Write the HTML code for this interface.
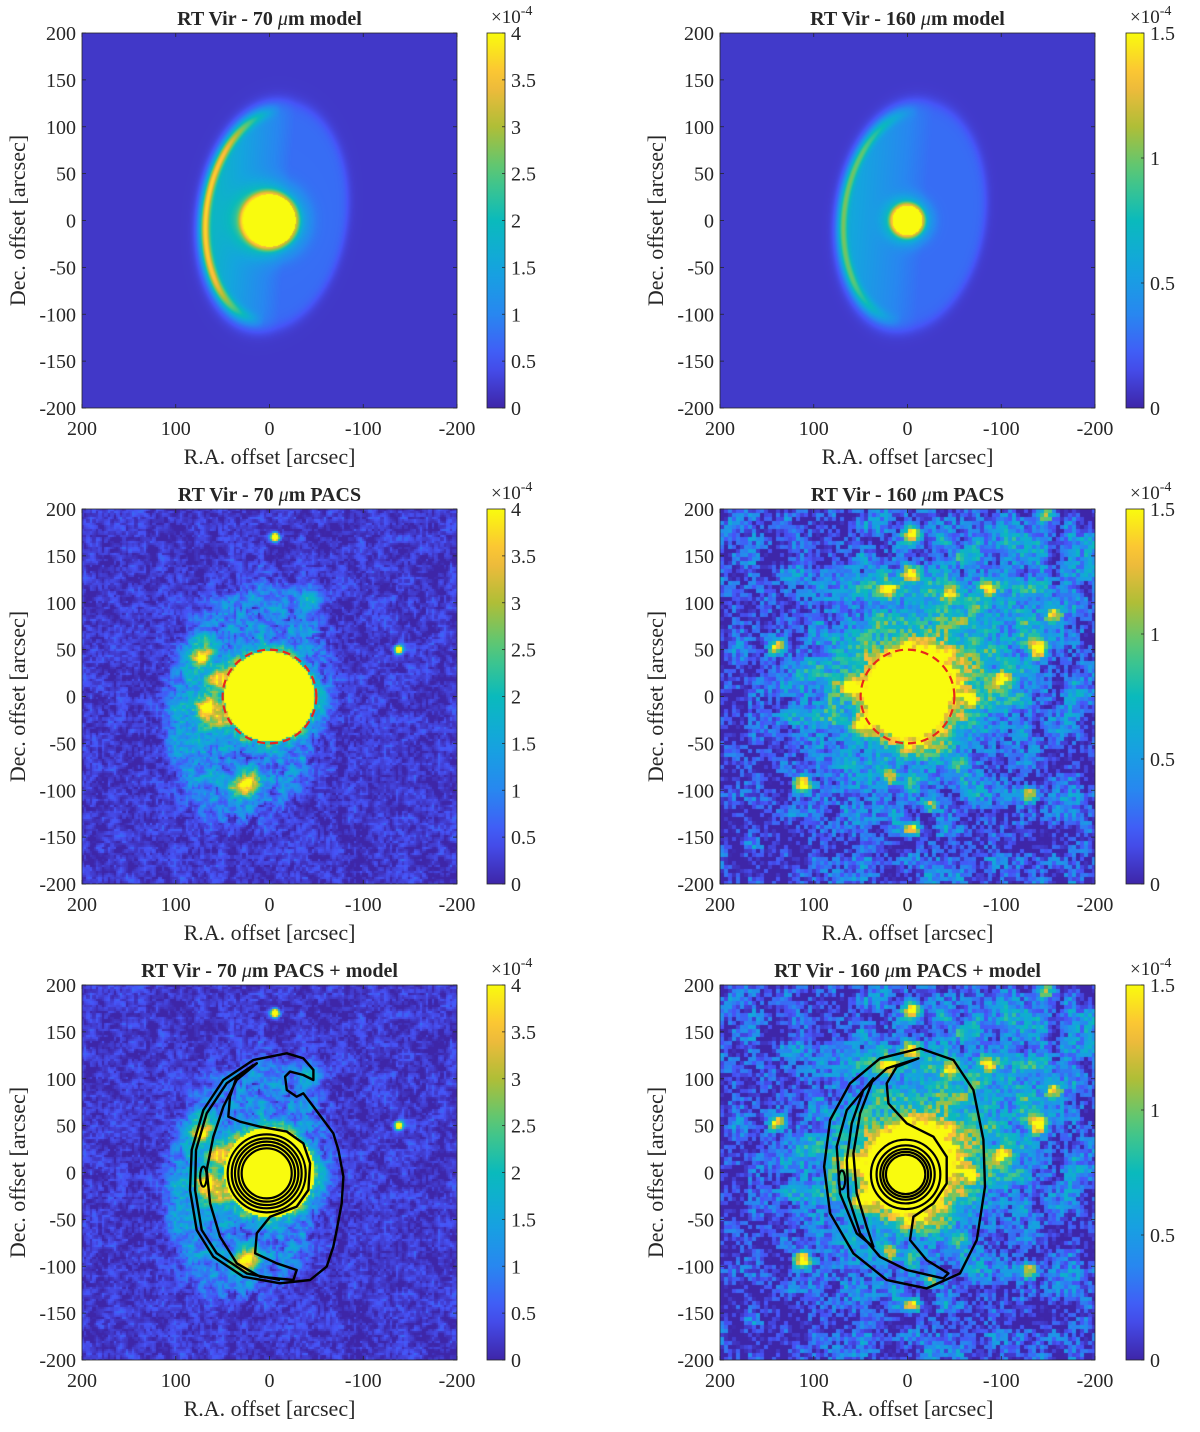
<!DOCTYPE html>
<html><head><meta charset="utf-8">
<style>
html,body{margin:0;padding:0;background:#fff;}
#root{position:relative;width:1200px;height:1432px;overflow:hidden;background:#fff;}
canvas{position:absolute;}
svg{position:absolute;left:0;top:0;}
text{font-family:"Liberation Serif",serif;fill:#262626;}
</style></head>
<body>
<div id="root">
<svg id="ov" width="1200" height="1432"></svg>
</div>
<script>
// ---- data arrays ----
const xTicks = [200, 100, 0, -100, -200];
const yTicks = [200, 150, 100, 50, 0, -50, -100, -150, -200];
const cbTicks70 = [0, 0.5, 1, 1.5, 2, 2.5, 3, 3.5, 4];
const cbTicks160 = [0, 0.5, 1, 1.5];
const titles = ["RT Vir - 70 |m model", "RT Vir - 160 |m model", "RT Vir - 70 |m PACS", "RT Vir - 160 |m PACS", "RT Vir - 70 |m PACS + model", "RT Vir - 160 |m PACS + model"];
// point sources [ra, dec, amplitude]
const src70 = [[-6,170,7],[-138,50,6],[-43,105,1.6],[71,44,2.6],[67,-9,2.8],[55,20,2.2],[60,-25,2.0],[19,-91,2.6],[30,-97,2.0]];
const src160 = [[-4.5,172,1.6],[139.5,53,1.2],[-139.6,51,1.6],[111,-94,1.4],[-4.5,-141,1.1],[-132,-103,1.1],[-100,19,1.1],[-68,-2,1.2],[-147,194,1.1],[-157,89,1.0],[-86,117,1.0],[-45,110,1.1],[-3,131,1.2],[19,114,1.0],[19,-86,1.1],[-24,-116,1.0],[60,10,0.9],[50,-30,0.9]];
// contours [ra, dec]
const c70outer = [[-18.4,127.1],[17.2,120],[49.2,98.7],[70.5,66.7],[83,24],[84.8,-18.7],[77.7,-61.3],[59.9,-89.8],[27.9,-111.1],[-11.2,-118.2],[-43.3,-114.7],[-61,-100.4],[-68.1,-79.1],[-71.7,-61.3],[-77,-32.9],[-78.8,-4.4],[-73.5,24],[-68.1,41.8],[-57.5,56],[-46.8,70.3],[-36.1,84.5],[-29,80.9],[-18.4,88],[-16.6,102.3],[-21.9,107.6],[-36.1,104],[-46.8,98.7],[-46.8,109.4],[-36.1,121.8]];
const c70inner = [[13.6,116.5],[35,102.3],[42.1,80.9],[43.9,59.6],[31.4,54.2],[10.1,48.9],[-18.4,43.6],[-36.1,31.1],[-43.3,9.8],[-41.5,-18.7],[-29,-36.4],[-0.6,-47.1],[13.6,-64.9],[15.4,-86.2],[-7.7,-96.9],[-29,-104],[-25.5,-114.7],[10.1,-111.1],[35,-96.9],[52.8,-68.4],[63.4,-32.9],[67,2.7],[59.9,38.2],[49.2,70.3],[35,98.7]];
const c70second = [[17.2,114.7],[45.7,95.1],[67,63.1],[78.4,24],[79.4,-18.7],[72.3,-61.3],[56.3,-86.2],[24.3,-107.6],[-11.2,-114.7]];
const rings70 = [26.7, 30.2, 33.8, 37.3];
const c160outer = [[-13.4,132.4],[-49,120],[-70.3,88],[-81,35],[-82.7,-15.2],[-73.9,-72],[-56,-107.6],[-20.5,-123.6],[22.2,-114.7],[57.7,-86.3],[82.6,-43.6],[89,6.2],[82.6,56],[61.3,95],[29.3,121.7]];
const c160crescent = [[36.4,100.4],[64.8,66.6],[75.5,27.5],[72,-22.3],[54.2,-65],[36.4,-79.2],[43.5,-57.8],[54.2,-22.3],[57.7,20.4],[50.6,63.1]];
const c160inner = [[-11.6,121.7],[11.5,112.8],[22.2,95],[20.4,73.7],[0.8,52.4],[-27.6,38.2],[-41.8,16.8],[-41.8,-11.6],[-27.6,-33],[-6.3,-47.2],[-2.7,-72],[-20.5,-93.4],[-43.6,-107.6],[-38.3,-113],[0.8,-104],[29.3,-89.9],[50.6,-65],[63.1,-25.9],[64.8,13.3],[59.5,52.4],[47.1,88],[22.2,111]];
const rings160 = [21, 24, 27, 31];

// ---- layout ----
const colX = [82, 720], rowY = [33, 509, 985], S = 375;
const cbX = [487, 1126], cbW = 18;
const NS = 'http://www.w3.org/2000/svg';
const ov = document.getElementById('ov');
const root = document.getElementById('root');
function mk(tag, attrs, parent) { const e = document.createElementNS(NS, tag); for (const k in attrs) e.setAttribute(k, attrs[k]); (parent || ov).appendChild(e); return e; }

const PAR = [[0,62,38,168],[0.125,70,84,248],[0.25,40,135,240],[0.375,20,165,222],[0.5,10,186,188],[0.625,80,200,125],[0.75,175,190,55],[0.875,252,186,60],[1,249,251,14]];
function parula(t) {
  t = Math.max(0, Math.min(1, t));
  for (let i = 1; i < PAR.length; i++) if (t <= PAR[i][0]) {
    const a = PAR[i-1], b = PAR[i], f = (t - a[0]) / (b[0] - a[0]);
    return [a[1]+(b[1]-a[1])*f, a[2]+(b[2]-a[2])*f, a[3]+(b[3]-a[3])*f];
  }
  return PAR[PAR.length-1].slice(1);
}
function hash(x, y, s) { let h = (x*374761393 + y*668265263 + s*1442695041) | 0; h = (h ^ (h >>> 13)) * 1274126177 | 0; h = h ^ (h >>> 16); return ((h >>> 0) % 100000) / 100000; }
function vnoise(x, y, sc, s) {
  const gx = x / sc, gy = y / sc, ix = Math.floor(gx), iy = Math.floor(gy), fx = gx - ix, fy = gy - iy;
  const sx = fx*fx*(3-2*fx), sy = fy*fy*(3-2*fy);
  const a = hash(ix,iy,s), b = hash(ix+1,iy,s), c = hash(ix,iy+1,s), d = hash(ix+1,iy+1,s);
  return (a + (b-a)*sx) + ((c + (d-c)*sx) - (a + (b-a)*sx)) * sy;
}
function g2(ra, dec, x0, y0, s) { return Math.exp(-((ra-x0)*(ra-x0) + (dec-y0)*(dec-y0)) / (2*s*s)); }

function shell(ra, dec) {
  const u = ra + 3 + 0.08 * (dec - 5), v = dec - 5, a = u > 0 ? 78 : 80, b = 122;
  const r = Math.sqrt((u/a)*(u/a) + (v/b)*(v/b));
  const s = 1 / (1 + Math.exp((r - 1) / 0.035));
  const left = Math.max(0, Math.min(1.2, u/a + 0.2));
  const rim = Math.exp(-Math.pow((r - 0.91) / 0.055, 2)) * Math.max(0, Math.min(1, (u/a) * 1.4));
  return { s, left, rim };
}
function model70(ra, dec) {
  const d = Math.hypot(ra, dec), sh = shell(ra, dec);
  let v = 0.2 + sh.s * (0.55 + 1.1 * sh.left) + 1.9 * sh.rim;
  v += d < 28 ? 6 : 1.6 * Math.exp(-Math.pow((d - 28) / 5, 2)) + 0.9 * Math.exp(-Math.pow((d - 28) / 16, 2));
  return v;
}
function model160(ra, dec) {
  const d = Math.hypot(ra, dec), sh = shell(ra, dec);
  let v = 0.08 + sh.s * (0.2 + 0.3 * sh.left) + 0.45 * sh.rim;
  v += d < 16 ? 3 : 0.6 * Math.exp(-Math.pow((d - 16) / 4, 2)) + 0.35 * Math.exp(-Math.pow((d - 16) / 12, 2));
  return v;
}
function pacs70(ra, dec, px, py) {
  const d = Math.hypot(ra, dec);
  const n = (vnoise(px, py, 3, 1) - 0.5) * 1.2 + (vnoise(px, py, 10, 2) - 0.5) * 0.9;
  const u = ra - 15 + 0.1 * dec, w = dec + 5, a = u > 0 ? 90 : 78, b = 125;
  const r = Math.sqrt((u/a)*(u/a) + (w/b)*(w/b));
  const s = 1 / (1 + Math.exp((r - 1) / 0.07));
  let v = 0.22 + n * 0.6 + s * (0.75 + n * 0.6 + 0.7 * Math.max(0, u/a));
  v += d < 48 ? 8 : 1.3 * Math.exp(-Math.pow((d - 48) / 10, 2));
  for (const p of src70) v += p[2] * g2(ra, dec, p[0], p[1], p[2] > 5 ? 3 : 8);
  return v;
}
function pacs160(ra, dec, px, py) {
  const d = Math.hypot(ra, dec);
  const bx = Math.floor(px / 4), by = Math.floor(py / 4);
  const n = (hash(bx, by, 5) - 0.5) * 0.55 + (vnoise(px, py, 16, 6) - 0.5) * 0.6;
  let v = 0.12 + n + 0.55 * g2(ra, dec, -20, 40, 90) + 0.6 * g2(ra, dec, 0, 0, 55) + 0.2 * g2(ra, dec, -150, 120, 60);
  v += d < 45 ? 3 : 0.5 * Math.exp(-Math.pow((d - 45) / 15, 2));
  for (const p of src160) v += p[2] * g2(ra, dec, p[0], p[1], 6);
  return v;
}

function drawImage(col, row, fn, vmax, block, name) {
  const cv = document.createElement('canvas');
  cv.width = S; cv.height = S;
  cv.style.left = colX[col] + 'px'; cv.style.top = rowY[row] + 'px';
  
  
  root.insertBefore(cv, ov);
  const ctx = cv.getContext('2d'), img = ctx.createImageData(S, S);
  for (let y = 0; y < S; y++) for (let x = 0; x < S; x++) {
    const qx = Math.floor(x / block) * block + block / 2, qy = Math.floor(y / block) * block + block / 2;
    const ra = 200 - qx * 400 / S, dec = 200 - qy * 400 / S;
    const c = parula(fn(ra, dec, qx, qy) / vmax), i = (y * S + x) * 4;
    img.data[i] = c[0]; img.data[i+1] = c[1]; img.data[i+2] = c[2]; img.data[i+3] = 255;
  }
  ctx.putImageData(img, 0, 0);
}

drawImage(0, 0, model70, 4, 1, 'model-70-image');
drawImage(1, 0, model160, 1.5, 1, 'model-160-image');
drawImage(0, 1, pacs70, 4, 2, 'pacs-70-image');
drawImage(1, 1, pacs160, 1.5, 4, 'pacs-160-image');
drawImage(0, 2, pacs70, 4, 2, 'pacs-model-70-image');
drawImage(1, 2, pacs160, 1.5, 4, 'pacs-model-160-image');

const gd = mk('defs', {});
const lg = mk('linearGradient', { id: 'parg', x1: 0, y1: 1, x2: 0, y2: 0 }, gd);
for (let i = 0; i <= 20; i++) { const c = parula(i / 20); mk('stop', { offset: i / 20, 'stop-color': `rgb(${c.map(Math.round).join(',')})` }, lg); }

function axX(col, ra) { return colX[col] + (200 - ra) * S / 400; }
function axY(row, dec) { return rowY[row] + (200 - dec) * S / 400; }

for (let row = 0; row < 3; row++) for (let col = 0; col < 2; col++) {
  const x0 = colX[col], y0 = rowY[row];
  const g = mk('g', {});
  
  
  const fr = mk('rect', { x: x0, y: y0, width: S, height: S, fill: 'none', stroke: '#262626', 'stroke-width': 0.8 }, g);
   
  for (const t of xTicks) {
    const x = axX(col, t);
    mk('line', { x1: x, y1: y0 + S, x2: x, y2: y0 + S - 4, stroke: '#262626', 'stroke-width': 0.8 }, g);
    mk('line', { x1: x, y1: y0, x2: x, y2: y0 + 4, stroke: '#262626', 'stroke-width': 0.8 }, g);
    const tl = mk('text', { x: x, y: y0 + S + 27, 'font-size': 20, 'text-anchor': 'middle' }, g);
    tl.textContent = t;  
  }
  for (const t of yTicks) {
    const y = axY(row, t);
    mk('line', { x1: x0, y1: y, x2: x0 + 4, y2: y, stroke: '#262626', 'stroke-width': 0.8 }, g);
    mk('line', { x1: x0 + S, y1: y, x2: x0 + S - 4, y2: y, stroke: '#262626', 'stroke-width': 0.8 }, g);
    const tl = mk('text', { x: x0 - 6, y: y + 7, 'font-size': 20, 'text-anchor': 'end' }, g);
    tl.textContent = t;  
  }
  const xl = mk('text', { x: x0 + S/2, y: y0 + S + 56, 'font-size': 22, 'text-anchor': 'middle' }, g);
  xl.textContent = 'R.A. offset [arcsec]';  
  const yl = mk('text', { x: 0, y: 0, 'font-size': 22, 'text-anchor': 'middle', transform: `translate(${x0 - 57},${y0 + S/2}) rotate(-90)` }, g);
  yl.textContent = 'Dec. offset [arcsec]';  
  const parts = titles[row*2+col].split('|');
  const tt = mk('text', { x: x0 + S/2, y: y0 - 8, 'font-size': 20, 'font-weight': 'bold', 'text-anchor': 'middle' }, g);
   
  const t1 = mk('tspan', {}, tt); t1.textContent = parts[0];
  const t2 = mk('tspan', { 'font-style': 'italic', 'font-weight': 'normal' }, tt); t2.textContent = 'μ';
  const t3 = mk('tspan', {}, tt); t3.textContent = parts[1];
  const cx = cbX[col], ticks = col === 0 ? cbTicks70 : cbTicks160, vmax = ticks[ticks.length-1];
  const cb = mk('rect', { x: cx, y: y0, width: cbW, height: S, fill: 'url(#parg)', stroke: '#262626', 'stroke-width': 0.8 }, g);
   
  for (const t of ticks) {
    const y = y0 + S - t / vmax * S;
    mk('line', { x1: cx + cbW, y1: y, x2: cx + cbW - 3, y2: y, stroke: '#262626', 'stroke-width': 0.8 }, g);
    const cl = mk('text', { x: cx + cbW + 6, y: y + 7, 'font-size': 20 }, g);
    cl.textContent = t;  
  }
  const ex = mk('text', { x: cx + 4, y: y0 - 10, 'font-size': 19 }, g);
   
  const e1 = mk('tspan', {}, ex); e1.textContent = '×10';
  const e2 = mk('tspan', { dy: -8, 'font-size': 14 }, ex); e2.textContent = '-4';
  if (row === 1) {
    const rc = mk('circle', { cx: axX(col, 0), cy: axY(row, 0), r: 50 * S / 400, fill: 'none', stroke: '#e8261c', 'stroke-width': 2.2, 'stroke-dasharray': '8 5' }, g);
     
  }
}

function poly(row, col, pts, closed, name) {
  let d = pts.map((p, i) => (i ? 'L' : 'M') + axX(col, p[0]).toFixed(1) + ',' + axY(row, p[1]).toFixed(1)).join(' ');
  if (closed) d += ' Z';
  const p = mk('path', { d: d, fill: 'none', stroke: '#000', 'stroke-width': 2.4, 'stroke-linejoin': 'round' });
   
}
function ring(row, col, ra, dec, r, name, ry) {
  const e = mk('ellipse', { cx: axX(col, ra), cy: axY(row, dec), rx: r * S / 400, ry: (ry || r) * S / 400, fill: 'none', stroke: '#000', 'stroke-width': 2.2 });
   
}
poly(2, 0, c70outer, true, 'contour-70-outer');
poly(2, 0, c70inner, true, 'contour-70-inner');
poly(2, 0, c70second, false, 'contour-70-rim');
ring(2, 0, 70.5, -4.4, 3.5, 'contour-70-knot', 10.7);
for (const r of rings70) ring(2, 0, 3, -0.9, r, 'contour-70-ring');
ring(2, 0, 3, -0.9, 41.6, 'contour-70-ring');
poly(2, 1, c160outer, true, 'contour-160-outer');
poly(2, 1, c160crescent, true, 'contour-160-crescent');
poly(2, 1, c160inner, true, 'contour-160-inner');
ring(2, 1, 70, -8, 3.5, 'contour-160-knot', 10);
for (const r of rings160) ring(2, 1, 2, -2, r, 'contour-160-ring');
ring(2, 1, 2, -2, 37, 'contour-160-ring');
</script>
</body></html>
